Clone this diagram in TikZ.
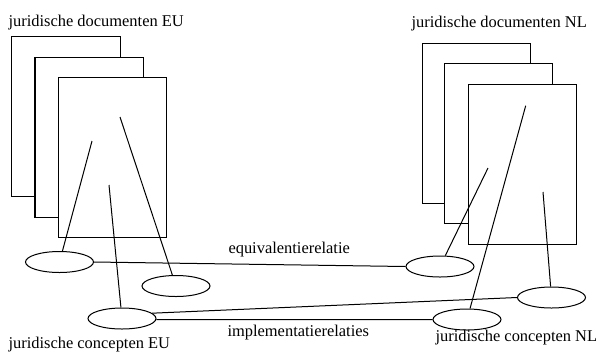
\documentclass[tikz,border=0pt]{standalone}
\usepackage{fontspec}
\setmainfont{Liberation Serif}
\usetikzlibrary{shapes.geometric}
\begin{document}
\begin{tikzpicture}[x=1bp,y=-1bp,
  line width=1bp,
  docpage/.style={draw, fill=white, rectangle, minimum width=108bp, minimum height=160bp, inner sep=0pt},
  concept/.style={draw, fill=white, ellipse, minimum width=68bp, minimum height=21bp, inner sep=0pt},
  lbl/.style={font=\fontsize{16.5}{18}\selectfont, inner sep=0pt, anchor=base west},
  link/.style={draw}]
\useasboundingbox (0,0) rectangle (596,353);
% EU documents
\node[docpage] (eu1) at (66,116) {};
\node[docpage] (eu2) at (89,137) {};
\node[docpage] (eu3) at (112.5,157.5) {};
% NL documents
\node[docpage] (nl1) at (476,123) {};
\node[docpage] (nl2) at (498.5,143.5) {};
\node[docpage] (nl3) at (522.5,164.5) {};
% titles
\node[lbl] (teu) at (8,26) {juridische documenten EU};
\node[lbl] (tnl) at (411,27) {juridische documenten NL};
% concepts EU
\node[concept] (ce1) at (59.5,262) {};
\node[concept] (ce2) at (176,286) {};
\node[concept] (ce3) at (122,318.5) {};
% concepts NL
\node[concept] (cn1) at (440,266.5) {};
\node[concept] (cn2) at (551.5,297.5) {};
\node[concept] (cn3) at (467,319.5) {};
% points inside documents
\coordinate (pe1) at (92,141);
\coordinate (pe2) at (109,185);
\coordinate (pe3) at (120,117);
\coordinate (pn1) at (488,168);
\coordinate (pn2) at (525.7,105.7);
\coordinate (pn3) at (543,192);
\draw (pe1) -- (ce1);
\draw (pe2) -- (ce3);
\draw (pe3) -- (ce2);
\draw (pn1) -- (cn1);
\draw (pn2) -- (cn3);
\draw (pn3) -- (cn2);
% relations
\draw (ce1.east) -- (cn1.west);
\draw (ce3.10) -- (cn2.west);
\draw (ce3.-2) -- (cn3.west);
\node[lbl] (teq) at (228,253) {equivalentierelatie};
\node[lbl] (tim) at (227,336) {implementatierelaties};
\node[lbl] (tce) at (8,348) {juridische concepten EU};
\node[lbl] (tcn) at (435,341) {juridische concepten NL};
\end{tikzpicture}
\end{document}
